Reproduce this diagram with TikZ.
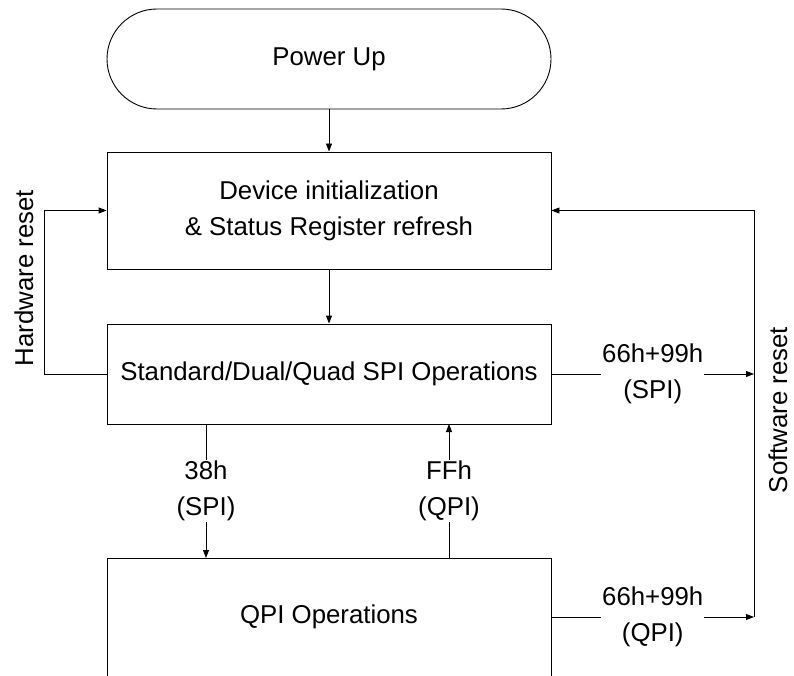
\documentclass[tikz,border=0pt]{standalone}
\usepackage{fontspec}
\setmainfont{Liberation Sans}
\usetikzlibrary{arrows.meta}
\tikzset{
  flowbox/.style={draw, minimum width=444pt, align=center},
  cmdlabel/.style={fill=white, align=center, inner sep=1pt},
  flowarrow/.style={-{Triangle[length=8pt,width=6pt]}},
}
\begin{document}
\begin{tikzpicture}[x=1pt, y=-1pt, line width=0.9pt, font=\fontsize{25.8}{36}\selectfont]

	\clip (0,0) rectangle (794,676);

	% boxes
	\node[flowbox, minimum height=100pt, rounded corners=50pt] (power) at (329,59) {Power Up};
	\node[flowbox, minimum height=117pt] (init) at (329,210.5) {Device initialization\\\& Status Register refresh};
	\node[flowbox, minimum height=100pt] (spi) at (329,374) {Standard/Dual/Quad SPI Operations};
	\node[flowbox, minimum height=118pt] (qpi) at (329,617) {QPI Operations};

	% software reset line
	\coordinate (swbot) at (754,617);
	\coordinate (swtop) at (754,210.5);

	\draw[flowarrow] (power) -- (init);
	\draw[flowarrow] (init) -- (spi);

	% hardware reset
	\draw[flowarrow] (spi.west) -- ++(-62,0) |- (init.west);
	\node[rotate=90, inner sep=0pt] (hwlabel) at (24,278) {Hardware reset};

	% between SPI and QPI
	\draw[flowarrow] (206,424) -- node[cmdlabel] (spiqpi) {38h\\(SPI)} (206,558);
	\draw[flowarrow] (449,558) -- node[cmdlabel] (qpispi) {FFh\\(QPI)} (449,424);

	% software reset
	\draw[flowarrow] (spi.east) -- node[cmdlabel] (swspi) {66h+99h\\(SPI)} (spi.east -| swbot);
	\draw[flowarrow] (qpi.east) -- node[cmdlabel] (swqpi) {66h+99h\\(QPI)} (swbot);
	\draw[flowarrow] (swbot) -- (swtop) -- (init.east);
	\node[rotate=90, inner sep=0pt] (swlabel) at (778,410) {Software reset};

\end{tikzpicture}
\end{document}
